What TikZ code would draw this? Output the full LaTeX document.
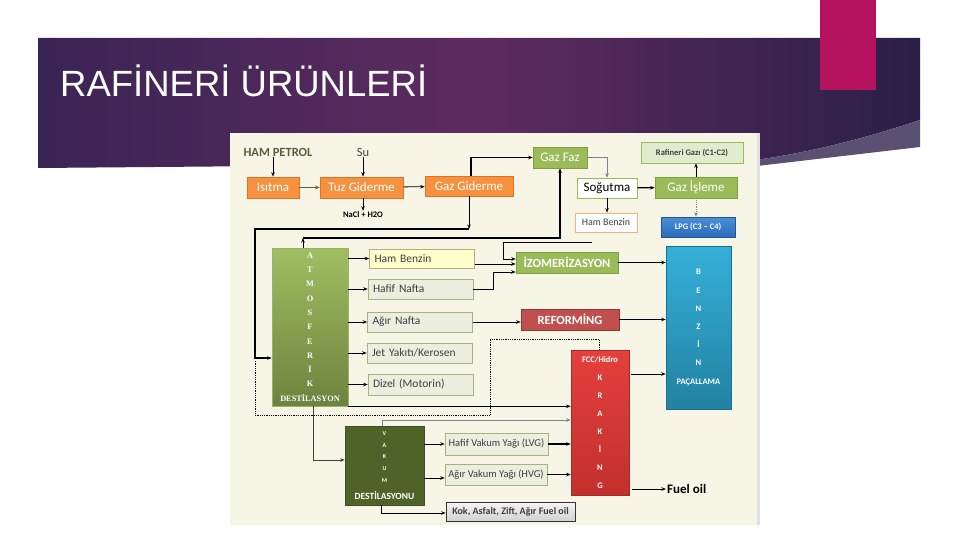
\documentclass[tikz,border=0pt]{standalone}
\usepackage{fontspec}
\setmainfont{Carlito}
\newfontfamily\titlefont{Liberation Sans}
\newfontfamily\serifbf{Liberation Serif}
\usetikzlibrary{arrows.meta}
\newcommand\myfs[1]{\fontsize{#1}{#1}\selectfont}
\definecolor{bandL}{HTML}{3A2454}
\definecolor{bandM}{HTML}{5E2B60}
\definecolor{bandR}{HTML}{2A1F47}
\definecolor{wedge}{HTML}{5A5072}
\definecolor{pinkc}{HTML}{B5135F}
\definecolor{diagbg}{HTML}{F7F5E5}
\definecolor{orangec}{HTML}{F6923F}
\definecolor{orangeb}{HTML}{E0741E}
\definecolor{greenc}{HTML}{9BBB59}
\definecolor{greenb}{HTML}{7F9F44}
\definecolor{prodc}{HTML}{ECEEDF}
\definecolor{prodb}{HTML}{A3B47E}
\definecolor{yelc}{HTML}{FFFFCC}
\definecolor{darktext}{HTML}{3F3F3F}
\definecolor{olivetext}{HTML}{55603C}
\definecolor{vakc}{HTML}{4F6228}
\definecolor{refc}{HTML}{C0504D}
\definecolor{refb}{HTML}{943634}
\definecolor{grayline}{HTML}{7A8590}
\definecolor{benzT}{HTML}{34B0D8}
\definecolor{benzB}{HTML}{2282A3}
\definecolor{lpgT}{HTML}{4A8FD9}
\definecolor{lpgB}{HTML}{2B6BB8}
\definecolor{fccT}{HTML}{E4403D}
\definecolor{fccB}{HTML}{C2302E}
\tikzset{
  bx/.style={inner sep=0pt, line width=0.6pt},
  obox/.style={bx, fill=orangec, draw=orangeb, text=white, font=\myfs{13}},
  gbox/.style={bx, fill=greenc, draw=greenb, text=white, font=\myfs{13}},
  pbox/.style={bx, fill=prodc, draw=prodb, text=darktext, font=\myfs{11.5}, text width=95pt, inner xsep=5pt, align=left},
  vbox/.style={bx, fill=prodc, draw=prodb, text=darktext, font=\myfs{10.5}},
  arr/.style={-{Stealth[length=4.5pt,width=3.5pt]}, line width=0.8pt},
  tarr/.style={arr, line width=1.3pt},
}
\begin{document}
\begin{tikzpicture}[x=1pt,y=-1pt]
\useasboundingbox (0,0) rectangle (960,540);
\fill[white] (0,0) rectangle (960,540);
% title band
\shade[left color=bandL, right color=bandR, middle color=bandM]
  (38,38) -- (920,38) -- (920,120) .. controls (860,140) and (800,155) .. (740,162) -- (38,168) -- cycle;
\fill[wedge] (920,120) .. controls (860,140) and (800,155) .. (740,162) -- (560,167) -- (740,168) -- (920,147) -- cycle;
\fill[pinkc] (820,0) rectangle (876,90);
\node[anchor=base west, inner sep=0pt, text=white, font=\titlefont\myfs{36.5}] (title) at (60,97) {RAFİNERİ ÜRÜNLERİ};
% diagram background
\fill[diagbg] (230,133) rectangle (757,525);
\fill[black!12] (757,133) rectangle (760,525);

% top row
\node[font=\bfseries\myfs{12.5}, text=olivetext, inner sep=1pt] (hampetrol) at (278,152) {HAM PETROL};
\node[font=\myfs{12.5}, text=darktext, inner sep=1pt] (su) at (363,152) {Su};
\node[obox, minimum width=52pt, minimum height=21pt] (isitma) at (273,187.5) {Isıtma};
\node[obox, minimum width=83pt, minimum height=21pt] (tuz) at (361.5,187.5) {Tuz Giderme};
\node[font=\bfseries\myfs{8.5}, inner sep=1pt] (nacl) at (363,215) {NaCl + H2O};
\node[obox, minimum width=88pt, minimum height=20pt] (gazg) at (469,186) {Gaz Giderme};
\node[gbox, minimum width=54pt, minimum height=21pt] (gazfaz) at (560,157.5) {Gaz Faz};
\node[bx, fill=white, draw=greenc, font=\myfs{13}, minimum width=60pt, minimum height=20pt] (sogutma) at (607,188) {Soğutma};
\node[gbox, minimum width=82pt, minimum height=21pt] (gazis) at (696,187.5) {Gaz İşleme};
\node[bx, fill=greenc!30, draw=greenc, text=darktext, font=\bfseries\myfs{8.5}, minimum width=102pt, minimum height=21pt] (rafgaz) at (692,152.5) {Rafineri Gazı (C1-C2)};
\node[bx, top color=lpgT, bottom color=lpgB, draw=lpgB!80!black, text=white, font=\bfseries\myfs{8.5}, minimum width=74pt, minimum height=20pt] (lpg) at (698,227) {LPG (C3 – C4)};
\node[bx, fill=white, draw=orangec!70, text=darktext, font=\myfs{10}, minimum width=62pt, minimum height=19pt] (hbs) at (606,222.5) {Ham Benzin};

% atmospheric distillation
\node[bx, top color=greenc!95!white, bottom color=greenc!70!black, draw=greenb!80, text=white, minimum width=76pt, minimum height=158pt, align=center, font=\serifbf\bfseries\fontsize{8.3}{14.3}\selectfont] (atmos) at (310,327) {A\\T\\M\\O\\S\\F\\E\\R\\İ\\K\\DESTİLASYON};
\node[pbox, fill=yelc, minimum height=19pt] (p1) at (422,258.5) {Ham Benzin};
\node[pbox, minimum height=20pt] (p2) at (420.5,289) {Hafif Nafta};
\node[pbox, minimum height=20pt] (p3) at (420,322) {Ağır Nafta};
\node[pbox, minimum height=20pt] (p4) at (419.5,353) {Jet Yakıtı/Kerosen};
\node[pbox, minimum height=21pt] (p5) at (420.5,384.5) {Dizel (Motorin)};

\node[gbox, font=\bfseries\myfs{12.5}, minimum width=102pt, minimum height=21pt] (izo) at (567,262.5) {İZOMERİZASYON};
\node[bx, fill=refc, draw=refb, text=white, font=\bfseries\myfs{12.5}, minimum width=98pt, minimum height=21pt] (ref) at (570,319.5) {REFORMİNG};
\node[bx, top color=benzT, bottom color=benzB, draw=benzB!85!black, text=white, minimum width=65pt, minimum height=163pt, align=center, font=\bfseries\fontsize{8.5}{18.2}\selectfont] (benzin) at (698.5,327.5) {B\\E\\N\\Z\\İ\\N\\PAÇALLAMA};
\node[bx, top color=fccT, bottom color=fccB, draw=fccB!85!black, text=white, minimum width=58pt, minimum height=145pt, align=center, font=\bfseries\fontsize{8.5}{18.1}\selectfont] (fcc) at (600,422.5) {FCC/Hidro\\K\\R\\A\\K\\İ\\N\\G};
\node[font=\bfseries\myfs{13}, anchor=west, inner sep=1pt] (fuel) at (666,489) {Fuel oil};

% vacuum distillation
\node[bx, fill=vakc, draw=vakc!80!black, text=white, minimum width=79pt, minimum height=79pt, align=center, font=\bfseries\fontsize{6}{11.6}\selectfont] (vakum) at (384.5,465.5) {V\\A\\K\\U\\M\\[5.4pt]{\myfs{9.5}DESTİLASYONU}};
\node[vbox, minimum width=103pt, minimum height=22pt] (lvg) at (496.5,444) {Hafif Vakum Yağı (LVG)};
\node[vbox, minimum width=102pt, minimum height=21pt] (hvg) at (496,474.5) {Ağır Vakum Yağı (HVG)};
\node[bx, top color=black!4, bottom color=black!18, draw=black!80, text=darktext, font=\bfseries\myfs{10}, minimum width=129pt, minimum height=19pt] (kok) at (510.5,511.5) {Kok, Asfalt, Zift, Ağır Fuel oil};

% helper coordinates
\coordinate (gzup) at (471,157);
\coordinate (j1) at (469,229);
\coordinate (j2) at (255,229);
\coordinate (feed) at (272,358);
\coordinate (t1) at (303,238);
\coordinate (t2) at (560,238);
\coordinate (h1) at (592,242);
\coordinate (h2) at (503,242);
\coordinate (h3) at (503,259);
\coordinate (i1) at (0,264);
\coordinate (i2) at (493,272);
\coordinate (f1) at (0,374);
\coordinate (d1) at (599,339);
\coordinate (d2) at (490,339);
\coordinate (d3) at (490,415);
\coordinate (d4) at (255,415);
\coordinate (d5) at (255,361);
\coordinate (v1) at (313,460);
\coordinate (v2) at (382,420);
\coordinate (v3) at (0,478);
\coordinate (v4) at (381,513);

% connectors top
\draw[arr] (isitma.north |- hampetrol.south) -- (isitma.north);
\draw[arr] (su.south) -- (su.south |- tuz.north);
\draw[arr, olivetext] (isitma) -- (tuz);
\draw[arr] (tuz.south -| nacl) -- (nacl.north);
\draw[arr] (tuz) -- (gazg);
\draw[tarr] (gazg.north -| gzup) |- (gazfaz.west);
\draw[arr, grayline, line width=0.6pt] (gazfaz.east) -| (sogutma.north);
\draw[tarr] (sogutma) -- (gazis);
\draw[arr] (gazis.north) -- (gazis.north |- rafgaz.south);
\draw[arr, grayline, densely dotted] (gazis.south) -- (gazis.south |- lpg.north);
\draw[arr] (sogutma.south) -- (sogutma.south |- hbs.north);
\draw[arr] (gazg.south -| j1) -- (j1);
\draw[tarr] (j1) -- (j2) |- (atmos.west |- feed);
\draw[arr] (atmos.north -| t1) -- (t1);
\draw[tarr] (t1) -- (t2) -- (gazfaz.south -| t2);
\draw[arr, line width=0.6pt] (h1) -- (h2) -- (h3) -- (izo.west |- h3);

% atmospheric products
\foreach \p in {p1,p2,p3,p4,p5} {\draw[arr] (atmos.east |- \p) -- (\p.west);}
\draw[arr] (p1.east |- i1) -- (izo.west |- i1);
\draw[arr] (p2.east) -| (i2) -- (izo.west |- i2);
\draw[arr] (p3.east) -- (ref.west |- p3.east);
\draw[arr] (izo.east) -- (benzin.west |- izo.east);
\draw[arr] (ref.east) -- (benzin.west |- ref.east);
\draw[arr, shorten <=2pt] (fcc.east |- f1) -- (benzin.west |- f1);
\draw[arr, shorten <=3pt] (fcc.east |- fuel) -- (fuel.west);
\draw[densely dotted, line width=0.8pt] (fcc.north -| d1) -- (d1) -- (d2) -- (d3) -- (d4) -- (d5);
\draw[tarr] (atmos.south east) -- (fcc.west |- atmos.south east);
\draw[arr, darktext] (atmos.south -| v1) -- (v1) -- (vakum.west |- v1);
\draw[arr, grayline, line width=0.6pt] (vakum.north -| v2) -- (v2) -- (fcc.west |- v2);
\draw[arr] (vakum.east |- lvg) -- (lvg.west);
\draw[tarr] (lvg.east) -- (fcc.west |- lvg.east);
\draw[arr] (vakum.east |- v3) -- (hvg.west |- v3);
\draw[arr, line width=0.6pt] (hvg.east) -- (fcc.west |- hvg.east);
\draw[arr] (vakum.south -| v4) -- (v4) -- (kok.west |- v4);
\end{tikzpicture}
\end{document}
